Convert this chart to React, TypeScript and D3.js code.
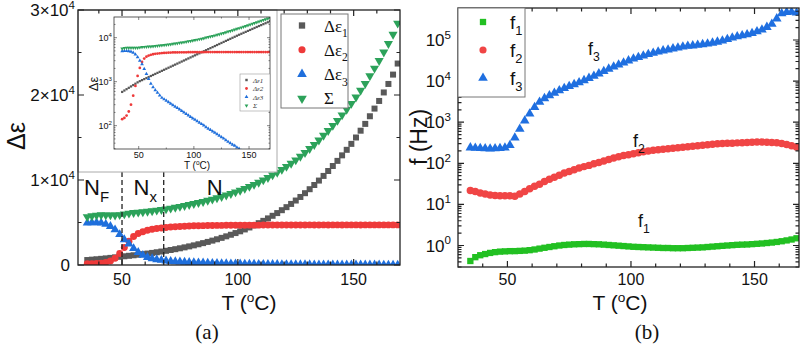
import React, { useEffect, useRef } from 'react';
import * as d3 from 'd3';

// panel (a): dielectric strengths vs temperature
const tempA = [35, 37, 39, 41, 43, 45, 47, 49, 51, 53, 55, 57, 59, 61, 63, 65, 67, 69, 71, 73, 75, 77, 79, 81, 83, 85, 87, 89, 91, 93, 95, 97, 99, 101, 103, 105, 107, 109, 111, 113, 115, 117, 119, 121, 123, 125, 127, 129, 131, 133, 135, 137, 139, 141, 143, 145, 147, 149, 151, 153, 155, 157, 159, 161, 163, 165, 167, 169];
const deltaEps1 = [585, 629, 675, 725, 779, 837, 898, 965, 1027, 1084, 1145, 1208, 1275, 1346, 1421, 1500, 1583, 1671, 1764, 1861, 1965, 2074, 2189, 2310, 2439, 2574, 2716, 2868, 3026, 3194, 3372, 3558, 3756, 3964, 4184, 4418, 4662, 4922, 5194, 5483, 5788, 6108, 6448, 6805, 7184, 7584, 8004, 8449, 8917, 9410, 9933, 10480, 11060, 11650, 12250, 12900, 13550, 14250, 15000, 15800, 16600, 17500, 18400, 19300, 20300, 21300, 22400, 23700];
const deltaEps2 = [140, 150, 170, 210, 300, 480, 800, 1350, 2050, 2800, 3350, 3700, 3920, 4080, 4200, 4290, 4360, 4420, 4470, 4510, 4540, 4570, 4590, 4610, 4620, 4630, 4640, 4650, 4660, 4660, 4670, 4670, 4680, 4680, 4680, 4690, 4690, 4690, 4700, 4700, 4710, 4700, 4710, 4710, 4700, 4710, 4710, 4710, 4720, 4710, 4710, 4720, 4710, 4720, 4720, 4710, 4720, 4720, 4720, 4710, 4720, 4720, 4720, 4720, 4720, 4720, 4720, 4720];
const deltaEps3 = [4950, 5000, 5000, 4950, 4800, 4550, 4150, 3600, 3000, 2500, 1950, 1500, 1150, 900, 750, 640, 560, 490, 430, 398, 369, 342, 317, 293, 272, 252, 233, 216, 200, 185, 172, 159, 147, 137, 127, 117, 109, 101, 93, 86, 80, 74, 69, 64, 59, 55, 51, 47, 43, 40, 37, 35, 32, 30, 27, 25, 24, 22, 20, 19, 17, 16, 15, 14, 13, 12, 11, 10];
const deltaEpsSum = [5675, 5779, 5845, 5885, 5880, 5870, 5860, 5900, 5990, 6080, 6150, 6200, 6250, 6300, 6360, 6430, 6503, 6581, 6664, 6769, 6874, 6986, 7096, 7213, 7331, 7456, 7589, 7734, 7886, 8039, 8214, 8387, 8583, 8781, 8991, 9225, 9461, 9713, 9987, 10269, 10578, 10882, 11227, 11579, 11943, 12349, 12765, 13206, 13680, 14160, 14680, 15235, 15802, 16400, 16997, 17635, 18294, 18992, 19740, 20529, 21337, 22236, 23135, 24034, 25033, 26032, 27131, 28430];

// panel (b): relaxation frequencies vs temperature
const tempB = [35, 37, 39, 41, 43, 45, 47, 49, 51, 53, 55, 57, 59, 61, 63, 65, 67, 69, 71, 73, 75, 77, 79, 81, 83, 85, 87, 89, 91, 93, 95, 97, 99, 101, 103, 105, 107, 109, 111, 113, 115, 117, 119, 121, 123, 125, 127, 129, 131, 133, 135, 137, 139, 141, 143, 145, 147, 149, 151, 153, 155, 157, 159, 161, 163, 165, 167];
const freq1 = [0.42, 0.52, 0.58, 0.62, 0.66, 0.69, 0.71, 0.72, 0.73, 0.73, 0.74, 0.75, 0.77, 0.8, 0.84, 0.88, 0.92, 0.96, 1.0, 1.03, 1.05, 1.07, 1.08, 1.09, 1.09, 1.08, 1.07, 1.05, 1.03, 1.01, 0.99, 0.97, 0.95, 0.93, 0.92, 0.91, 0.9, 0.89, 0.88, 0.87, 0.87, 0.86, 0.86, 0.86, 0.87, 0.88, 0.89, 0.9, 0.92, 0.94, 0.96, 0.98, 1.0, 1.02, 1.04, 1.05, 1.06, 1.08, 1.1, 1.12, 1.15, 1.18, 1.22, 1.27, 1.33, 1.4, 1.5];
const freq2 = [21.8, 20.5, 19, 17.8, 17, 16.5, 16.3, 16.2, 16.2, 15.8, 18, 20.5, 24, 27.5, 31, 36, 41, 46, 51, 58, 63, 70, 77, 83, 89, 97, 104, 114, 124, 134, 145, 154, 162, 170, 180, 190, 200, 209, 215, 221, 227, 233, 240, 246, 253, 260, 268, 276, 284, 292, 298, 302, 306, 309, 314, 318, 322, 326, 328, 328, 326, 322, 315, 302, 285, 268, 248];
const freq3 = [240, 235, 232, 228, 226, 228, 232, 238, 275, 420, 680, 1080, 1600, 2300, 3100, 3800, 4450, 5150, 5900, 6700, 7500, 8300, 9200, 10400, 11800, 13300, 15200, 17400, 19800, 22300, 25000, 28000, 31500, 35000, 38000, 41500, 45000, 48000, 51500, 55000, 58000, 61500, 65000, 68500, 71000, 73000, 75500, 78000, 81000, 85000, 90000, 96000, 104000, 113000, 121000, 128000, 136000, 146000, 160000, 178000, 205000, 245000, 330000, 440000, 475000, 480000, 460000];

const tempTicks = [50, 100, 150];
const tempMinor = [40, 60, 70, 80, 90, 110, 120, 130, 140, 160];
const epsTicks = [0, 10000, 20000, 30000];
const epsMinor = [5000, 15000, 25000];
const freqDecades = [0, 1, 2, 3, 4, 5];
const insetDecades = [2, 3, 4];
const phaseBounds = [50, 68];
const phaseNames = [['N', 'F'], ['N', 'x'], ['N', '']];
const legendA = [['Δε', '1'], ['Δε', '2'], ['Δε', '3'], ['Σ', '']];
const legendInset = ['Δε1', 'Δε2', 'Δε3', 'Σ'];
const legendB = [['f', '1'], ['f', '2'], ['f', '3']];

const SANS = '"Liberation Sans", Arial, sans-serif';
const SERIF = '"Liberation Serif", "Times New Roman", serif';

const colA = { gray: '#595959', red: '#ee3a3a', blue: '#1f6fdc', green: '#2ca25a' };
const colB = { green: '#22c022', red: '#f04545', blue: '#1f6fe0' };

function tickPath(sx: any, sy: any, xMaj: number[], xMin: number[], yMaj: number[], yMin: number[], maj: number, min: number) {
  const [xl, xr] = sx.range();
  const [yb, yt] = sy.range();
  let p = '';
  xMaj.forEach(v => { const x = sx(v); p += `M${x},${yb}v${-maj}M${x},${yt}v${maj}`; });
  xMin.forEach(v => { const x = sx(v); p += `M${x},${yb}v${-min}M${x},${yt}v${min}`; });
  yMaj.forEach(v => { const y = sy(v); p += `M${xl},${y}h${maj}M${xr},${y}h${-maj}`; });
  yMin.forEach(v => { const y = sy(v); p += `M${xl},${y}h${min}M${xr},${y}h${-min}`; });
  return p;
}

function scatter(g: any, xs: number[], ys: number[], sx: any, sy: any, sym: any, size: number, color: string, rot = 0) {
  const d = d3.symbol().type(sym).size(size)();
  g.selectAll(null)
    .data(xs.map((x, i) => [x, ys[i]]))
    .enter()
    .append('path')
    .attr('d', d)
    .attr('transform', (p: number[]) => `translate(${sx(p[0])},${sy(p[1])})` + (rot ? ` rotate(${rot})` : ''))
    .attr('fill', color);
}

function subText(g: any, x: number, y: number, base: string, sub: string, size: number, family: string, anchor = 'start') {
  const t = g.append('text').attr('x', x).attr('y', y).attr('text-anchor', anchor)
    .style('font-family', family).style('font-size', size + 'px').attr('fill', '#111');
  t.append('tspan').text(base);
  if (sub) t.append('tspan').attr('dy', size * 0.32).style('font-size', size * 0.68 + 'px').text(sub);
  return t;
}

function supText(g: any, x: number, y: number, base: string, sup: string, size: number, anchor = 'end') {
  const t = g.append('text').attr('x', x).attr('y', y).attr('text-anchor', anchor)
    .style('font-family', SANS).style('font-size', size + 'px').attr('fill', '#111');
  t.append('tspan').text(base);
  t.append('tspan').attr('dy', -size * 0.42).style('font-size', size * 0.68 + 'px').text(sup);
  return t;
}

function tempLabel(g: any, x: number, y: number, size: number) {
  const t = g.append('text').attr('x', x).attr('y', y).attr('text-anchor', 'middle')
    .style('font-family', SANS).style('font-size', size + 'px').attr('fill', '#111');
  t.append('tspan').text('T (');
  t.append('tspan').attr('dy', -size * 0.38).style('font-size', size * 0.65 + 'px').text('o');
  t.append('tspan').attr('dy', size * 0.38).text('C)');
}

function drawPanelA(svg: any) {
  const xA = d3.scaleLinear().domain([31, 170]).range([78, 400]);
  const yA = d3.scaleLinear().domain([0, 30000]).range([265, 10]);
  const g = svg.append('g');

  // data
  const clip = svg.append('defs').append('clipPath').attr('id', 'clipA');
  clip.append('rect').attr('x', 78).attr('y', 10).attr('width', 322).attr('height', 255);
  const data = g.append('g').attr('clip-path', 'url(#clipA)');
  scatter(data, tempA, deltaEps1, xA, yA, d3.symbolSquare, 36, colA.gray);
  scatter(data, tempA, deltaEps2, xA, yA, d3.symbolCircle, 38, colA.red);
  scatter(data, tempA, deltaEps3, xA, yA, d3.symbolTriangle, 36, colA.blue);
  scatter(data, tempA, deltaEpsSum, xA, yA, d3.symbolTriangle, 36, colA.green, 180);

  // phase boundaries
  phaseBounds.forEach(t => {
    g.append('line').attr('x1', xA(t)).attr('x2', xA(t)).attr('y1', 172).attr('y2', 265)
      .attr('stroke', '#222').attr('stroke-width', 1.3).attr('stroke-dasharray', '5,3');
  });
  [39, 60, 90].forEach((t, i) => {
    subText(g, xA(t), 195, phaseNames[i][0], phaseNames[i][1], 22, SANS, 'middle');
  });

  // inset (log scale)
  const inset = g.append('g');
  inset.append('rect').attr('x', 78).attr('y', 10).attr('width', 199).attr('height', 162)
    .attr('fill', '#fff').attr('stroke', '#aaa').attr('stroke-width', 1);
  const xI = d3.scaleLinear().domain([27.6, 169]).range([114, 270]);
  const yI = d3.scaleLog().domain([29.5, 29500]).range([149, 17]);
  inset.append('defs').append('clipPath').attr('id', 'clipI')
    .append('rect').attr('x', 114).attr('y', 17).attr('width', 156).attr('height', 132);
  const idata = inset.append('g').attr('clip-path', 'url(#clipI)');
  scatter(idata, tempA, deltaEps1, xI, yI, d3.symbolSquare, 5, colA.gray);
  scatter(idata, tempA, deltaEps2, xI, yI, d3.symbolCircle, 6, colA.red);
  scatter(idata, tempA, deltaEps3, xI, yI, d3.symbolTriangle, 6, colA.blue);
  scatter(idata, tempA, deltaEpsSum, xI, yI, d3.symbolTriangle, 6, colA.green, 180);
  const iMinor: number[] = [];
  [10, 100, 1000, 10000].forEach(d => [2, 3, 4, 5, 6, 7, 8, 9].forEach(m => {
    const v = d * m; if (v > 29.5 && v < 29500) iMinor.push(v);
  }));
  inset.append('rect').attr('x', 114).attr('y', 17).attr('width', 156).attr('height', 132)
    .attr('fill', 'none').attr('stroke', '#333').attr('stroke-width', 0.8);
  inset.append('path')
    .attr('d', tickPath(xI, yI, tempTicks, [75, 125], insetDecades.map(e => Math.pow(10, e)), iMinor, 3, 1.5))
    .attr('stroke', '#333').attr('stroke-width', 0.6).attr('fill', 'none');
  tempTicks.forEach(t => {
    inset.append('text').attr('x', xI(t)).attr('y', 158).attr('text-anchor', 'middle')
      .style('font-family', SANS).style('font-size', '9px').attr('fill', '#111').text(t);
  });
  insetDecades.forEach(e => supText(inset, 112, yI(Math.pow(10, e)) + 3, '10', String(e), 9));
  tempLabel(inset, 197, 169, 10);
  inset.append('text').attr('transform', 'translate(98,84) rotate(-90)').attr('text-anchor', 'middle')
    .style('font-family', SANS).style('font-size', '13px').attr('fill', '#111').text('Δε');
  // inset legend
  inset.append('rect').attr('x', 240).attr('y', 74).attr('width', 30).attr('height', 37)
    .attr('fill', '#fff').attr('stroke', '#999').attr('stroke-width', 0.6);
  const iSym = [d3.symbolSquare, d3.symbolCircle, d3.symbolTriangle, d3.symbolTriangle];
  const iCol = [colA.gray, colA.red, colA.blue, colA.green];
  legendInset.forEach((name, i) => {
    const y = 80 + i * 8.5;
    inset.append('path').attr('d', d3.symbol().type(iSym[i]).size(6)())
      .attr('transform', `translate(246.5,${y})` + (i === 3 ? ' rotate(180)' : '')).attr('fill', iCol[i]);
    inset.append('text').attr('x', 253).attr('y', y + 2.5)
      .style('font-family', SERIF).style('font-size', '7px').style('font-style', 'italic')
      .attr('fill', '#333').text(name);
  });

  // frame and ticks
  g.append('rect').attr('x', 78).attr('y', 10).attr('width', 322).attr('height', 255)
    .attr('fill', 'none').attr('stroke', '#222').attr('stroke-width', 1.3);
  g.append('path').attr('d', tickPath(xA, yA, tempTicks, tempMinor, epsTicks, epsMinor, 6, 3.5))
    .attr('stroke', '#222').attr('stroke-width', 1.2).attr('fill', 'none');
  tempTicks.forEach(t => {
    g.append('text').attr('x', xA(t)).attr('y', 285).attr('text-anchor', 'middle')
      .style('font-family', SANS).style('font-size', '16px').attr('fill', '#111').text(t);
  });
  epsTicks.forEach(v => {
    if (v === 0) {
      g.append('text').attr('x', 70).attr('y', yA(v) + 6).attr('text-anchor', 'end')
        .style('font-family', SANS).style('font-size', '17px').attr('fill', '#111').text('0');
    } else {
      supText(g, 75, yA(v) + 6, `${v / 10000}×10`, '4', 17);
    }
  });
  tempLabel(g, 249, 310, 21);
  g.append('text').attr('transform', 'translate(25,136) rotate(-90)').attr('text-anchor', 'middle')
    .style('font-family', SANS).style('font-size', '25px').attr('fill', '#111').text('Δε');

  // legend
  g.append('rect').attr('x', 281).attr('y', 14).attr('width', 67).attr('height', 94)
    .attr('fill', '#fff').attr('stroke', '#777').attr('stroke-width', 1);
  const lSym = [d3.symbolSquare, d3.symbolCircle, d3.symbolTriangle, d3.symbolTriangle];
  legendA.forEach((item, i) => {
    const y = 25.5 + i * 24.3;
    g.append('path').attr('d', d3.symbol().type(lSym[i]).size(40)())
      .attr('transform', `translate(302,${y})` + (i === 3 ? ' rotate(180)' : '')).attr('fill', iCol[i]);
    subText(g, 324, y + 6, item[0], item[1], 17, SERIF);
  });

  g.append('text').attr('x', 207).attr('y', 339).attr('text-anchor', 'middle')
    .style('font-family', SERIF).style('font-size', '21px').attr('fill', '#111').text('(a)');
}

function drawPanelB(svg: any) {
  const xB = d3.scaleLinear().domain([30, 168]).range([458, 799]);
  const yB = d3.scaleLog().domain([0.3, 6e5]).range([267, 8]);
  const g = svg.append('g');

  svg.append('defs').append('clipPath').attr('id', 'clipB')
    .append('rect').attr('x', 458).attr('y', 8).attr('width', 341).attr('height', 259);
  const data = g.append('g').attr('clip-path', 'url(#clipB)');
  scatter(data, tempB, freq1, xB, yB, d3.symbolSquare, 40, colB.green);
  scatter(data, tempB, freq2, xB, yB, d3.symbolCircle, 44, colB.red);
  scatter(data, tempB, freq3, xB, yB, d3.symbolTriangle, 40, colB.blue);

  const minor: number[] = [];
  [0.1, 1, 10, 100, 1000, 10000, 100000].forEach(d => [2, 3, 4, 5, 6, 7, 8, 9].forEach(m => {
    const v = d * m; if (v > 0.3 && v < 6e5) minor.push(v);
  }));
  g.append('rect').attr('x', 458).attr('y', 8).attr('width', 341).attr('height', 259)
    .attr('fill', 'none').attr('stroke', '#222').attr('stroke-width', 1.3);
  g.append('path')
    .attr('d', tickPath(xB, yB, tempTicks, tempMinor, freqDecades.map(e => Math.pow(10, e)), minor, 6, 3.5))
    .attr('stroke', '#222').attr('stroke-width', 1.2).attr('fill', 'none');
  tempTicks.forEach(t => {
    g.append('text').attr('x', xB(t)).attr('y', 285).attr('text-anchor', 'middle')
      .style('font-family', SANS).style('font-size', '16px').attr('fill', '#111').text(t);
  });
  freqDecades.forEach(e => supText(g, 451, yB(Math.pow(10, e)) + 6, '10', String(e), 17));
  tempLabel(g, 620, 310, 21);
  g.append('text').attr('transform', 'translate(427,137) rotate(-90)').attr('text-anchor', 'middle')
    .style('font-family', SANS).style('font-size', '23px').attr('fill', '#111').text('f (Hz)');

  // curve labels
  subText(g, 588, 55, 'f', '3', 18, SANS);
  subText(g, 633, 147, 'f', '2', 18, SANS);
  subText(g, 638, 227, 'f', '1', 18, SANS);

  // legend
  g.append('rect').attr('x', 458).attr('y', 8).attr('width', 67).attr('height', 89)
    .attr('fill', '#fff').attr('stroke', '#777').attr('stroke-width', 1);
  const lSym = [d3.symbolSquare, d3.symbolCircle, d3.symbolTriangle];
  const lCol = [colB.green, colB.red, colB.blue];
  legendB.forEach((item, i) => {
    const y = 22 + i * 28;
    g.append('path').attr('d', d3.symbol().type(lSym[i]).size(40)())
      .attr('transform', `translate(483,${y})`).attr('fill', lCol[i]);
    subText(g, 510, y + 6.5, item[0], item[1], 19, SANS);
  });

  g.append('text').attr('x', 647).attr('y', 339).attr('text-anchor', 'middle')
    .style('font-family', SERIF).style('font-size', '21px').attr('fill', '#111').text('(b)');
}

export default function App() {
  const ref = useRef<SVGSVGElement>(null);

  useEffect(() => {
    const svg = d3.select(ref.current);
    svg.selectAll('*').remove();
    drawPanelA(svg);
    drawPanelB(svg);
  }, []);

  return (
    <svg ref={ref} width={800} height={352}
      style={{ position: 'absolute', left: 0, top: 0, background: '#fff' }} />
  );
}
